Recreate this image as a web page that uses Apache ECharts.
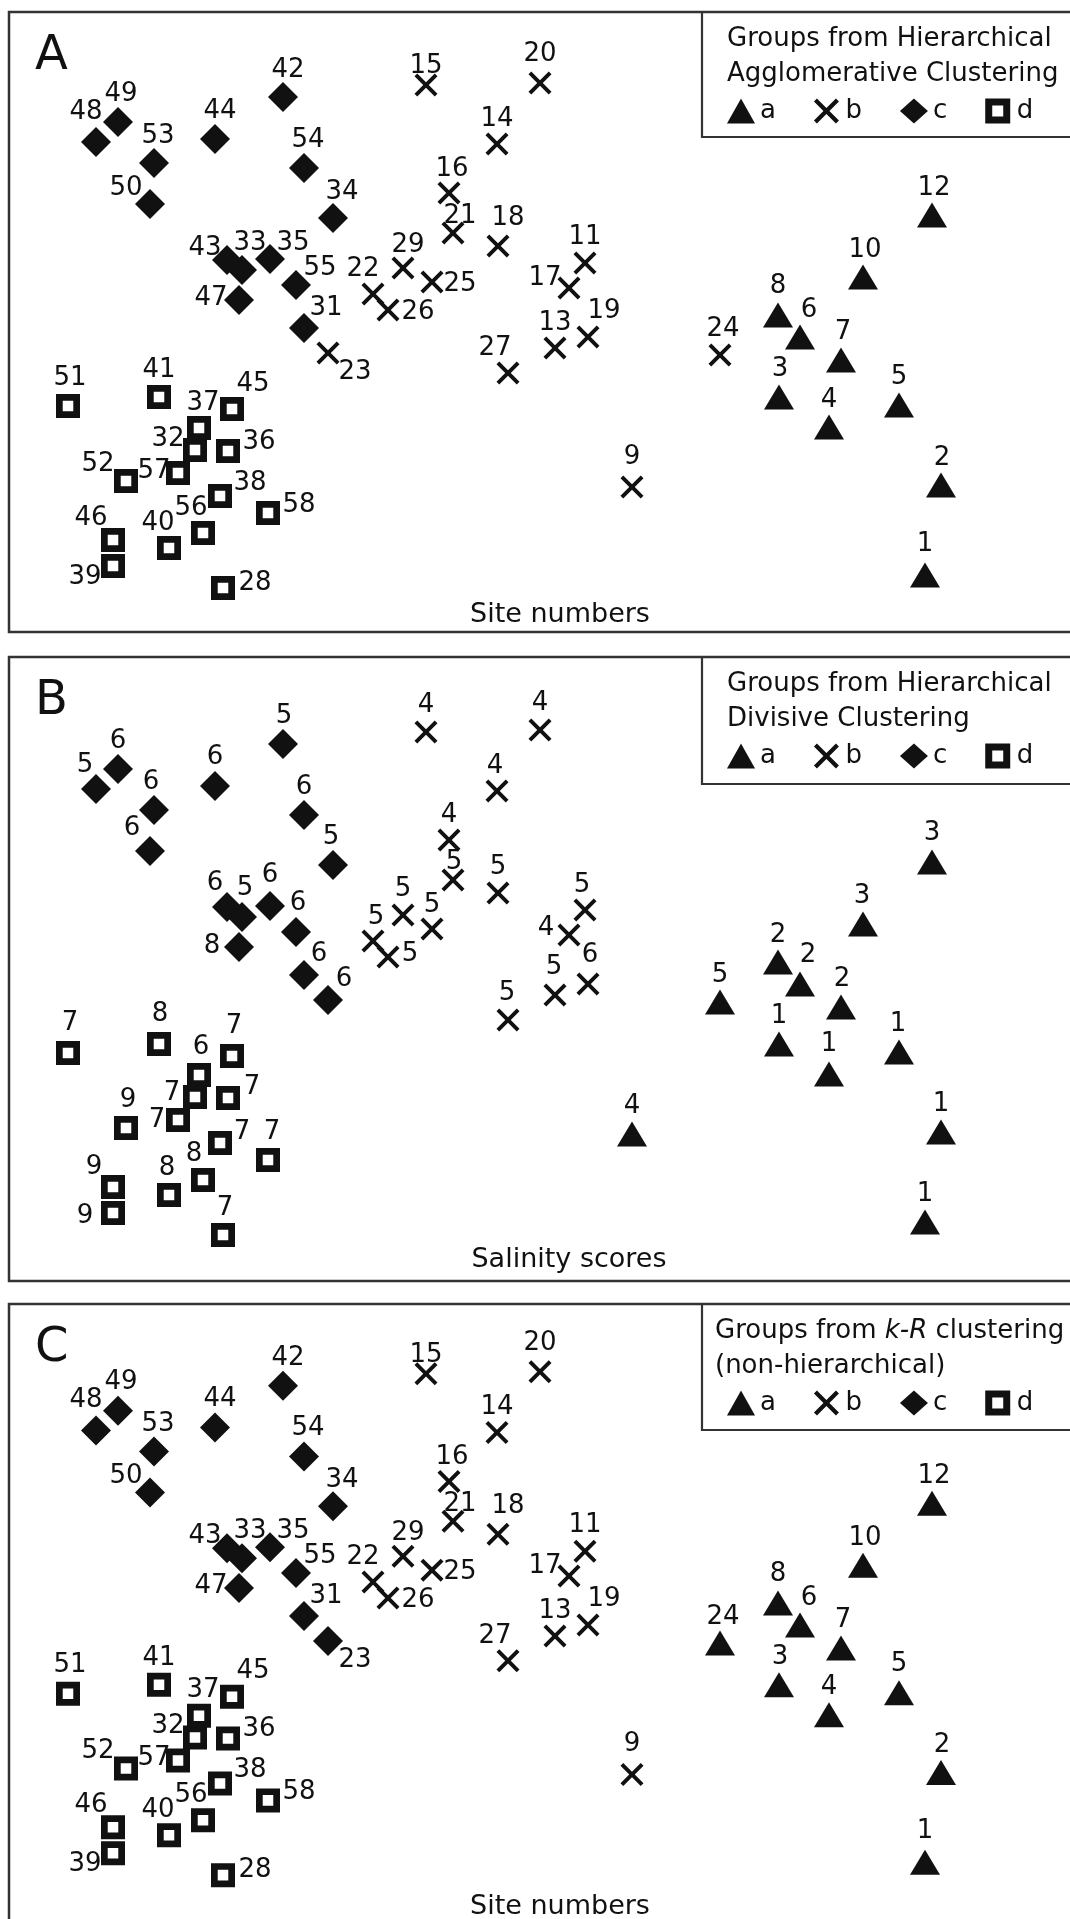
<!DOCTYPE html>
<html><head><meta charset="utf-8">
<script src="https://cdn.jsdelivr.net/npm/echarts@6/dist/echarts.min.js"></script>
<style>html,body{margin:0;padding:0;background:#fff}#c{width:1070px;height:1919px}</style>
</head><body><div id="c"></div>
<script>
// ---- data (ordination scores, arbitrary units) ----
const sites = [1,2,3,4,5,6,7,8,9,10,11,12,13,14,15,16,17,18,19,20,21,22,23,24,25,26,27,28,29,
  31,32,33,34,35,36,37,38,39,40,41,42,43,44,45,46,47,48,49,50,51,52,53,54,55,56,57,58];
const ordX = [91.6,93.2,77.0,82.0,89.0,79.1,83.2,76.9,62.3,85.4,57.6,92.3,54.6,48.8,41.7,44.0,56.0,48.9,57.9,53.1,44.4,36.4,31.9,71.1,42.3,37.9,49.9,21.4,39.4,
  29.5,18.6,23.3,32.4,26.1,21.9,19.0,21.1,10.4,16.0,15.0,27.4,21.8,20.6,22.3,10.4,23.0,8.7,10.9,14.1,5.9,11.7,14.5,29.5,28.7,19.4,16.9,25.9];
const ordY = [5.7,14.7,23.5,20.5,22.7,29.5,27.2,31.7,14.5,35.5,36.9,41.7,28.4,48.8,54.7,43.9,34.4,38.6,29.5,54.9,39.9,33.8,27.9,27.7,35.0,32.2,25.9,4.4,36.4,
  30.4,18.2,36.2,41.4,37.3,18.1,20.4,13.6,6.6,8.4,23.5,53.5,37.2,49.3,22.3,9.2,33.2,49.0,51.0,42.8,22.6,15.1,46.9,46.4,34.7,9.9,15.9,11.9];
const salinity = [1,1,1,1,1,2,2,2,4,3,5,3,5,4,4,4,4,5,6,4,5,5,6,5,5,5,5,7,5,
  6,7,5,5,6,7,6,7,9,8,8,5,6,6,7,9,8,5,6,6,7,9,6,6,6,8,7,7];
const groupAgglomerative = ['a','a','a','a','a','a','a','a','b','a','b','a','b','b','b','b','b','b','b','b','b','b','b','b','b','b','b','d','b',
  'c','d','c','c','c','d','d','d','d','d','d','c','c','c','d','d','c','c','c','c','d','d','c','c','c','d','d','d'];
const groupDivisive = ['a','a','a','a','a','a','a','a','a','a','b','a','b','b','b','b','b','b','b','b','b','b','c','a','b','b','b','d','b',
  'c','d','c','c','c','d','d','d','d','d','d','c','c','c','d','d','c','c','c','c','d','d','c','c','c','d','d','d'];
const groupKR = ['a','a','a','a','a','a','a','a','b','a','b','a','b','b','b','b','b','b','b','b','b','b','c','a','b','b','b','d','b',
  'c','d','c','c','c','d','d','d','d','d','d','c','c','c','d','d','c','c','c','c','d','d','c','c','c','d','d','d'];
const groupNames = ['a','b','c','d'];
const panelLetters = ['A','B','C'];
const legendTitles = [
  ['Groups from Hierarchical','Agglomerative Clustering'],
  ['Groups from Hierarchical','Divisive Clustering'],
  ['{n|Groups from }{i|k-R}{n| clustering}','(non-hierarchical)']
];
const captions = ['Site numbers','Salinity scores','Site numbers'];

// ---- label placement (style, pixels from marker centre) ----
const labelOffsetSite = {1:[0,-31],2:[1,-27],3:[1,-28],4:[0,-27],5:[0,-28],6:[9,-27],7:[2,-28],8:[0,-29],9:[0,-30],10:[2,-27],
  11:[0,-26],12:[2,-27],13:[0,-25],14:[0,-25],15:[0,-19],16:[3,-24],17:[-24,-10],18:[10,-28],19:[16,-26],20:[0,-29],
  21:[7,-17],22:[-10,-25],23:[27,19],24:[3,-26],25:[28,2],26:[30,2],27:[-13,-25],28:[32,-5],29:[5,-23],
  31:[22,-20],32:[-27,-11],33:[8,-27],34:[9,-26],35:[23,-16],36:[31,-9],37:[4,-25],38:[30,-13],39:[-28,11],40:[-11,-25],
  41:[0,-27],42:[5,-27],43:[-22,-12],44:[5,-28],45:[21,-25],46:[-22,-22],47:[-28,-2],48:[-10,-30],49:[3,-28],50:[-24,-16],
  51:[2,-28],52:[-28,-17],53:[4,-27],54:[4,-28],55:[24,-17],56:[-12,-25],57:[-24,-2],58:[31,-8]};
const labelOffsetSalinity = {1:[0,-28],2:[0,-28],3:[0,-28],4:[0,-30],5:[-1,-28],6:[8,-29],7:[1,-28],8:[0,-27],9:[0,-28],10:[-1,-28],
  11:[-3,-25],12:[0,-29],13:[-1,-28],14:[-2,-25],15:[0,-27],16:[0,-25],17:[-23,-7],18:[0,-26],19:[2,-29],20:[0,-27],
  21:[1,-18],22:[3,-24],23:[16,-21],24:[0,-27],25:[0,-24],26:[22,-3],27:[-1,-27],28:[2,-27],29:[0,-26],
  31:[15,-21],32:[-23,-4],33:[3,-29],34:[-2,-28],35:[0,-31],36:[24,-11],37:[2,-28],38:[22,-11],39:[-28,3],40:[-2,-27],
  41:[1,-30],42:[1,-28],43:[-12,-24],44:[0,-29],45:[2,-30],46:[-19,-20],47:[-27,-1],48:[-11,-24],49:[0,-28],50:[-18,-23],
  51:[2,-30],52:[2,-28],53:[-3,-28],54:[0,-28],55:[2,-29],56:[-9,-26],57:[-21,0],58:[4,-28]};

const XPATH = 'path://M0,12L12,0L50,38L88,0L100,12L62,50L100,88L88,100L50,62L12,100L0,88L38,50Z';
const SQPATH = 'path://M0,0H100V100H0Z M28,28V72H72V28Z';
const symbols = {a:'triangle', b:XPATH, c:'diamond', d:SQPATH};
const sizes = {a:[30,25], b:23, c:[30,30], d:24};
const INK = '#111';
const FONT = '"DejaVu Sans", sans-serif';

const gridTops = [12, 659, 1301];
const borderTops = [12, 657, 1304];
const borderHeights = [620, 624, 640];
const legendBoxH = [125, 127, 126];

const panels = [
  {groups: groupAgglomerative, text: sites, offsets: labelOffsetSite},
  {groups: groupDivisive, text: salinity, offsets: labelOffsetSalinity},
  {groups: groupKR, text: sites, offsets: labelOffsetSite}
];

const grid = [], xAxis = [], yAxis = [], series = [], legend = [], graphic = [];
panels.forEach((pn, p) => {
  grid.push({left: 9, top: gridTops[p], width: 1061, height: 620});
  xAxis.push({type:'value', gridIndex:p, min:0, max:106.1, show:false});
  yAxis.push({type:'value', gridIndex:p, min:0, max:62, show:false});
  groupNames.forEach(g => {
    const data = [];
    sites.forEach((s, i) => {
      if (pn.groups[i] === g) data.push({value:[ordX[i], ordY[i], pn.text[i]], label:{offset: pn.offsets[s]}});
    });
    series.push({
      type:'scatter', name:g, xAxisIndex:p, yAxisIndex:p,
      symbol: symbols[g], symbolSize: sizes[g],
      itemStyle:{color: INK, opacity: 1},
      label:{show:true, position:'inside', formatter: q => String(q.value[2]),
        color: INK, fontFamily: FONT, fontSize: 26, align:'center', verticalAlign:'middle'},
      emphasis:{disabled:true},
      data
    });
  });
  const bt = borderTops[p];
  legend.push({
    left: 727, top: bt + 86, orient:'horizontal', padding:0, itemWidth:28, itemHeight:25, itemGap:38,
    selectedMode:false, textStyle:{fontFamily: FONT, fontSize: 26, color: INK},
    data: groupNames.map(g => ({name:g, icon: symbols[g]}))
  });
  graphic.push({type:'rect', shape:{x:9, y:bt, width:1100, height:borderHeights[p]},
    style:{fill:'none', stroke:'#333', lineWidth:2.5}, silent:true});
  graphic.push({type:'rect', shape:{x:702, y:bt, width:400, height:legendBoxH[p]},
    style:{fill:'#fff', stroke:'#333', lineWidth:2.2}, silent:true, z:-1});
  const tx = p === 2 ? 715 : 727;
  graphic.push({type:'text', x:tx, y:bt + 27, silent:true,
    style:{text: legendTitles[p][0], font:'26px ' + FONT, fill: INK, textAlign:'left', textVerticalAlign:'middle', align:'left', verticalAlign:'middle',
      rich:{n:{font:'26px ' + FONT, fill: INK, color: INK}, i:{font:'italic 26px ' + FONT, fill: INK, color: INK}}}});
  graphic.push({type:'text', x:tx, y:bt + 62, silent:true,
    style:{text: legendTitles[p][1], font:'26px ' + FONT, fill: INK, textAlign:'left', textVerticalAlign:'middle', align:'left', verticalAlign:'middle'}});
  graphic.push({type:'text', x:35, y:bt + 45, silent:true,
    style:{text: panelLetters[p], font:'48px ' + FONT, fill: INK, textAlign:'left', textVerticalAlign:'middle', align:'left', verticalAlign:'middle'}});
  graphic.push({type:'text', x: p === 1 ? 569 : 560, y: bt + 603, silent:true,
    style:{text: captions[p], font:'27px ' + FONT, fill: INK, textAlign:'center', textVerticalAlign:'middle', align:'center', verticalAlign:'middle'}});
});

const chart = echarts.init(document.getElementById('c'), null, {renderer:'canvas'});
chart.setOption({animation:false, backgroundColor:'#fff', grid, xAxis, yAxis, series, legend, graphic});
</script></body></html>
